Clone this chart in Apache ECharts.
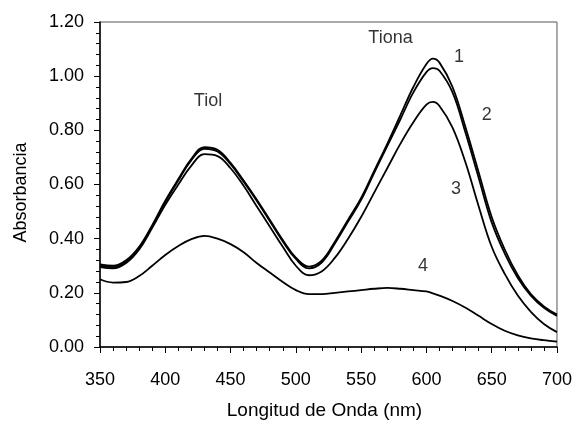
<!DOCTYPE html>
<html>
<head>
<meta charset="utf-8">
<script src="https://cdn.jsdelivr.net/npm/echarts@6/dist/echarts.min.js"></script>
<style>
  html, body { margin: 0; padding: 0; background: #fff; }
  #chart { width: 575px; height: 425px; }
</style>
</head>
<body>
<div id="chart"></div>
<script>
// longitudes de onda (nm)
var wl = [350,360,370,380,390,400,410,420,430,440,450,460,470,480,490,500,510,520,530,540,550,560,570,580,590,600,605,610,620,630,640,650,660,670,680,690,700];
// absorbancias
var curva1 = [0.305,0.30,0.32,0.37,0.45,0.54,0.62,0.695,0.738,0.728,0.68,0.615,0.545,0.47,0.395,0.33,0.297,0.32,0.39,0.47,0.55,0.65,0.75,0.855,0.96,1.045,1.065,1.05,0.96,0.81,0.645,0.48,0.36,0.265,0.195,0.15,0.12];
var curva2 = [0.30,0.295,0.315,0.365,0.445,0.535,0.615,0.69,0.732,0.722,0.675,0.61,0.54,0.465,0.39,0.325,0.29,0.313,0.383,0.463,0.543,0.643,0.742,0.84,0.94,1.015,1.03,1.02,0.94,0.79,0.625,0.46,0.345,0.255,0.19,0.145,0.115];
var curva3 = [0.295,0.29,0.31,0.36,0.44,0.525,0.60,0.67,0.712,0.705,0.66,0.595,0.52,0.445,0.37,0.30,0.265,0.28,0.33,0.40,0.48,0.57,0.66,0.75,0.83,0.895,0.905,0.89,0.81,0.68,0.52,0.37,0.27,0.19,0.13,0.085,0.055];
var curva4 = [0.25,0.238,0.24,0.262,0.30,0.34,0.373,0.398,0.41,0.40,0.38,0.35,0.31,0.275,0.24,0.21,0.195,0.195,0.20,0.205,0.21,0.215,0.218,0.215,0.21,0.205,0.198,0.19,0.17,0.145,0.115,0.085,0.06,0.043,0.032,0.025,0.02];
// textos dentro del grafico [nm, absorbancia, texto]
var etiquetas = [[432.7,0.91,'Tiol'],[572.5,1.139,'Tiona'],[624.9,1.07,'1'],[646.3,0.856,'2'],[622.6,0.585,'3'],[597.3,0.30,'4']];

function pares(ys){
    var out=[];
    for(let i=0;i<wl.length;i++){ out.push([wl[i],ys[i]]); }
    return out;
}
function linea(nombre, ys){
    return {
        name: nombre,
        type: 'line',
        data: pares(ys),
        smooth: 0.4,
        showSymbol: false,
        lineStyle: { color: '#000', width: 1.8 }
    };
}

var chart = echarts.init(document.getElementById('chart'));
var fuente = 'Liberation Sans, Arial, sans-serif';
var option = {
    animation: false,
    backgroundColor: '#fff',
    grid: { left: 100, right: 18, top: 22, bottom: 78, show: true, borderColor: '#555', borderWidth: 1 },
    xAxis: {
        type: 'value', min: 350, max: 700, interval: 50,
        name: 'Longitud de Onda (nm)', nameLocation: 'middle', nameGap: 54,
        nameTextStyle: { color: '#000', fontSize: 19, fontFamily: fuente, padding: [0, 8, 0, 0] },
        axisLine: { lineStyle: { color: '#000', width: 1.5 } },
        axisTick: { show: true, length: 6, lineStyle: { color: '#000' } },
        minorTick: { show: true, splitNumber: 5, length: 4, lineStyle: { color: '#000' } },
        splitLine: { show: false },
        axisLabel: { color: '#000', fontSize: 18, fontFamily: fuente, margin: 24 }
    },
    yAxis: {
        type: 'value', min: 0, max: 1.2, interval: 0.2,
        name: 'Absorbancia', nameLocation: 'middle', nameGap: 70,
        nameTextStyle: { color: '#000', fontSize: 18, fontFamily: fuente, padding: [0, 16, 0, 0] },
        axisLine: { show: true, lineStyle: { color: '#000', width: 1.5 } },
        axisTick: { show: true, length: 6, lineStyle: { color: '#000' } },
        minorTick: { show: true, splitNumber: 5, length: 4, lineStyle: { color: '#000' } },
        splitLine: { show: false },
        axisLabel: { color: '#000', fontSize: 18, fontFamily: fuente, margin: 16,
            formatter: function(v){ return v.toFixed(2); } }
    },
    series: [
        linea('1', curva1),
        linea('2', curva2),
        linea('3', curva3),
        linea('4', curva4),
        {
            type: 'scatter',
            symbolSize: 0,
            data: etiquetas.map(function(e){ return { value: [e[0], e[1]], name: e[2] }; }),
            label: { show: true, position: 'inside', formatter: '{b}', color: '#000', fontSize: 18, fontFamily: fuente },
            silent: true
        }
    ]
};
chart.setOption(option);
</script>
</body>
</html>
